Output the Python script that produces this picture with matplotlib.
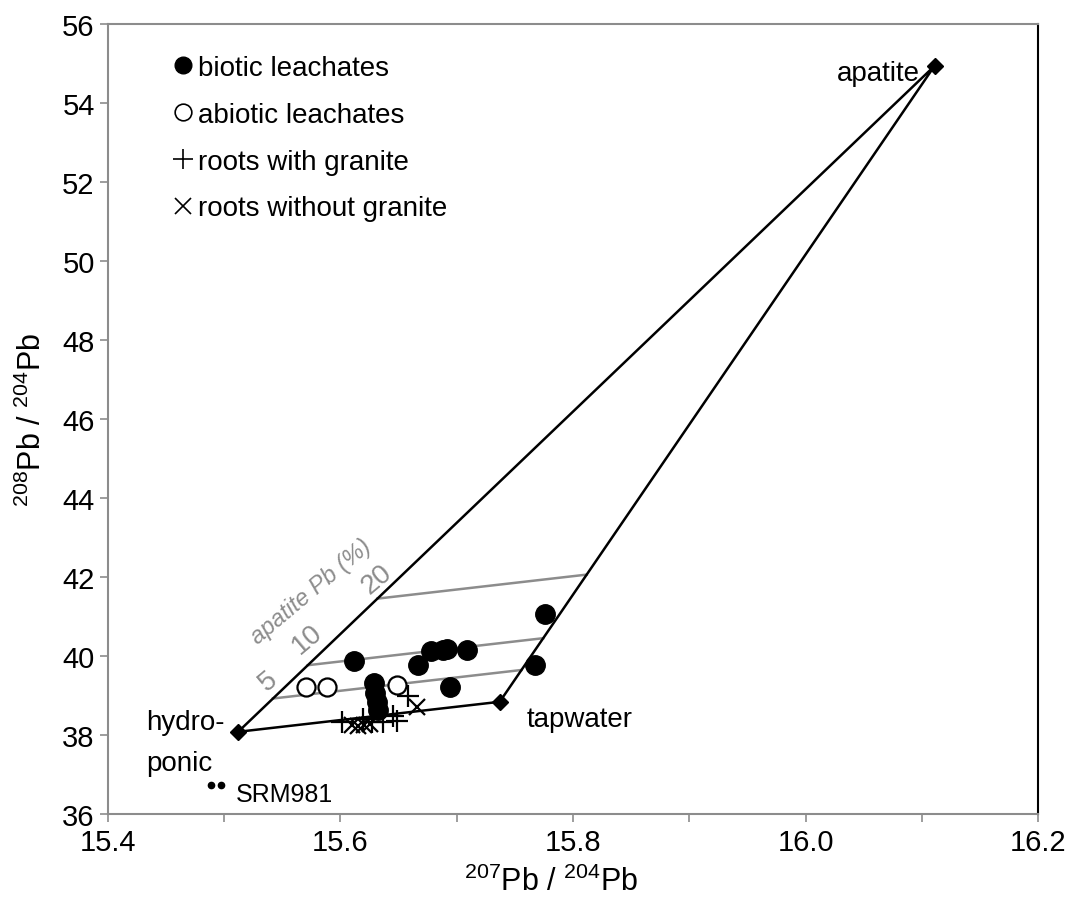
# Pb isotope mixing diagram: leachates and roots between hydroponic, tapwater and apatite
import matplotlib.pyplot as plt
from matplotlib.lines import Line2D
import numpy as np

plt.rcParams['font.family'] = ['Liberation Sans', 'DejaVu Sans']
plt.rcParams['mathtext.fontset'] = 'custom'
plt.rcParams['mathtext.rm'] = 'Liberation Sans'

# end members (207Pb/204Pb, 208Pb/204Pb)
hydroponic = (15.512, 38.08)
tapwater = (15.737, 38.84)
apatite = (16.111, 54.94)
srm981_x = [15.489, 15.497]
srm981_y = [36.73, 36.74]

# mixing lines, % of Pb from apatite
apatite_pct = [5, 10, 20]

biotic_x = [15.612, 15.667, 15.678, 15.688, 15.692, 15.709, 15.694, 15.767, 15.776,
            15.629, 15.630, 15.631, 15.632]
biotic_y = [39.87, 39.77, 40.13, 40.15, 40.18, 40.15, 39.22, 39.77, 41.06,
            39.32, 39.06, 38.84, 38.63]

abiotic_x = [15.570, 15.588, 15.649]
abiotic_y = [39.22, 39.22, 39.27]

granite_x = [15.601, 15.619, 15.627, 15.637, 15.645, 15.649, 15.658]
granite_y = [38.33, 38.41, 38.33, 38.33, 38.48, 38.35, 38.99]

nogranite_x = [15.610, 15.615, 15.620, 15.625, 15.666]
nogranite_y = [38.25, 38.23, 38.25, 38.28, 38.71]

fig = plt.figure(figsize=(10.72, 9.03), dpi=100)
ax = fig.add_axes([0.1007, 0.0975, 0.8676, 0.8748])

# gray mixing lines between the two sides of the triangle
for pct in apatite_pct:
    f = pct / 100.0
    lx = hydroponic[0] + f * (apatite[0] - hydroponic[0])
    ly = hydroponic[1] + f * (apatite[1] - hydroponic[1])
    rx = tapwater[0] + f * (apatite[0] - tapwater[0])
    ry = tapwater[1] + f * (apatite[1] - tapwater[1])
    ax.plot([lx, rx], [ly, ry], color='#8c8c8c', lw=1.8, zorder=1)

# triangle of end members
tri_x = [hydroponic[0], apatite[0], tapwater[0], hydroponic[0]]
tri_y = [hydroponic[1], apatite[1], tapwater[1], hydroponic[1]]
ax.plot(tri_x, tri_y, color='black', lw=1.8, zorder=2)
ax.plot(tri_x[:3], tri_y[:3], 'D', color='black', ms=8, zorder=3)
ax.plot(srm981_x, srm981_y, 'o', color='black', ms=4.5, zorder=3)

ax.plot(biotic_x, biotic_y, 'o', color='black', ms=14, zorder=4, ls='none')
ax.plot(abiotic_x, abiotic_y, 'o', mfc='white', mec='black', mew=1.6, ms=13,
        zorder=4, ls='none')
ax.plot(granite_x, granite_y, '+', color='black', ms=16, mew=1.6, zorder=5, ls='none')
ax.plot(nogranite_x, nogranite_y, 'x', color='black', ms=11, mew=1.6, zorder=5, ls='none')

# labels
ax.text(16.098, 54.75, 'apatite', fontsize=20, ha='right', va='center')
ax.text(15.433, 38.33, 'hydro-', fontsize=20, ha='left', va='center')
ax.text(15.433, 37.3, 'ponic', fontsize=20, ha='left', va='center')
ax.text(15.760, 38.4, 'tapwater', fontsize=20, ha='left', va='center')
ax.text(15.510, 36.5, 'SRM981', fontsize=18, ha='left', va='center')

gray = '#8c8c8c'
ax.text(15.575, 41.65, 'apatite Pb (%)', fontsize=17, color=gray, style='italic',
        rotation=40, ha='center', va='center')
ax.text(15.631, 41.95, '20', fontsize=20, color=gray, rotation=40, ha='center', va='center')
ax.text(15.571, 40.43, '10', fontsize=20, color=gray, rotation=40, ha='center', va='center')
ax.text(15.538, 39.37, '5', fontsize=20, color=gray, rotation=40, ha='center', va='center')

handles = [
    Line2D([], [], marker='o', color='black', ls='none', ms=12),
    Line2D([], [], marker='o', mfc='white', mec='black', mew=1.2, ls='none', ms=12),
    Line2D([], [], marker='+', color='black', ls='none', ms=14, mew=1.2),
    Line2D([], [], marker='x', color='black', ls='none', ms=11, mew=1.2),
]
labels = ['biotic leachates', 'abiotic leachates', 'roots with granite',
          'roots without granite']
ax.legend(handles, labels, loc='upper left', bbox_to_anchor=(0.0595, 0.975),
          frameon=False, fontsize=20, handlelength=0.6, handletextpad=0.25,
          labelspacing=0.75, borderaxespad=0)

ax.set_xlim(15.4, 16.2)
ax.set_ylim(36, 56)
ax.set_xticks(np.arange(15.4, 16.21, 0.2))
ax.set_xticks(np.arange(15.5, 16.2, 0.2), minor=True)
ax.set_yticks(np.arange(36, 57, 2))
ax.xaxis.set_major_formatter(plt.FormatStrFormatter('%.1f'))
ax.tick_params(axis='both', which='both', direction='out', color='#8c8c8c',
               labelsize=21, length=6, width=1.2)
ax.tick_params(axis='x', pad=4)
for side in ['left', 'bottom', 'top']:
    ax.spines[side].set_color('#8c8c8c')
    ax.spines[side].set_linewidth(1.5)
ax.spines['right'].set_color('black')
ax.spines['right'].set_linewidth(1.5)

ax.set_xlabel('$^{207}$Pb / $^{204}$Pb', fontsize=22, labelpad=6)
ax.xaxis.set_label_coords(0.476, -0.065)
ax.set_ylabel('$^{208}$Pb / $^{204}$Pb', fontsize=22, labelpad=10)

fig.savefig('out.png', dpi=100)
